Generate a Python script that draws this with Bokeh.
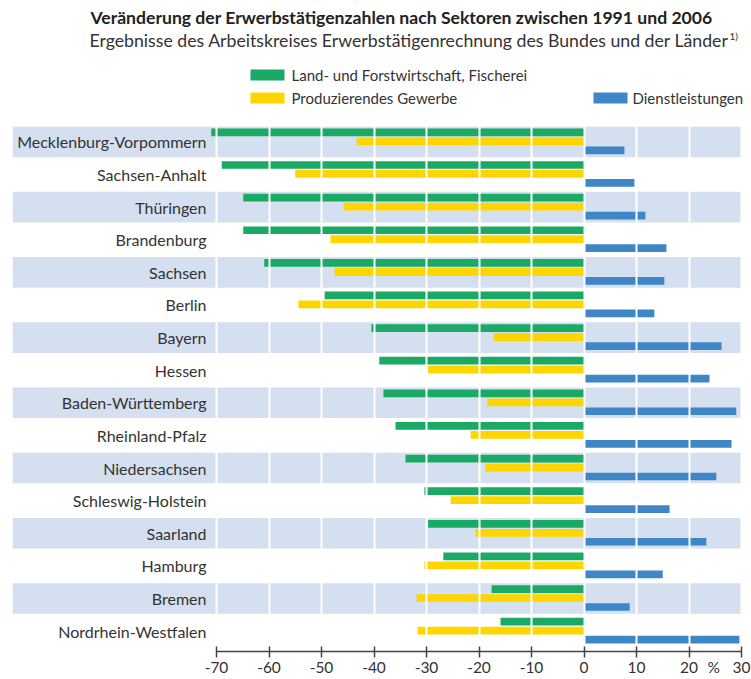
from bokeh.plotting import figure
from bokeh.models import Range1d, FixedTicker
from bokeh.layouts import column
from bokeh.embed import file_html
from bokeh.resources import INLINE
from bokeh.core.properties import value

# ---------------- data ----------------
states = ["Mecklenburg-Vorpommern", "Sachsen-Anhalt", "Thüringen", "Brandenburg",
          "Sachsen", "Berlin", "Bayern", "Hessen", "Baden-Württemberg",
          "Rheinland-Pfalz", "Niedersachsen", "Schleswig-Holstein", "Saarland",
          "Hamburg", "Bremen", "Nordrhein-Westfalen"]
land = [-71.0, -69.0, -64.9, -64.9, -60.9, -49.4, -40.5, -39.0, -38.2, -35.9,
        -34.0, -30.4, -29.7, -26.8, -17.6, -15.9]
prod = [-43.3, -55.0, -45.8, -48.3, -47.5, -54.4, -17.2, -29.7, -18.4, -21.6,
        -18.8, -25.4, -20.7, -30.4, -31.9, -31.7]
dienst = [7.7, 9.6, 11.7, 15.7, 15.3, 13.4, 26.2, 23.9, 29.0, 28.1, 25.2, 16.3,
          23.3, 15.0, 8.7, 29.6]
series_names = ["Land- und Forstwirtschaft, Fischerei", "Produzierendes Gewerbe",
                "Dienstleistungen"]
x_ticks = [-70, -60, -50, -40, -30, -20, -10, 0, 10, 20, 30]
x_tick_labels = ["-70", "-60", "-50", "-40", "-30", "-20", "-10", "0", "10", "20", "30"]
unit_label = "%"
title_text = "Veränderung der Erwerbstätigenzahlen nach Sektoren zwischen 1991 und 2006"
subtitle_text = "Ergebnisse des Arbeitskreises Erwerbstätigenrechnung des Bundes und der Länder"
footnote_mark = "1)"

# ---------------- styles ----------------
FONT = "Lato"
GREEN = "#1BAA66"
YELLOW = "#FFD500"
BLUE = "#3E86C6"
BAND = "#D4DFF0"
TXT = "#333333"

W = 751
HEAD_H = 126
MAIN_H = 679 - HEAD_H
X_MIN, X_MAX = -70, 30
LEFT_PAD = 12
PLOT_RIGHT = 741                     # page x of the value 30
label_px = 216 - LEFT_PAD            # width of the label column (page x 12..216)
scale = (PLOT_RIGHT - 216) / (X_MAX - X_MIN)
x_start = X_MIN - label_px / scale
x_end = X_MAX + (W - PLOT_RIGHT) / scale
PITCH = 32.62                        # px per row
AXIS_Y = 16.094                      # axis position in row units
y_bottom = MAIN_H / PITCH

# ---------------- header (coordinates = page pixels) ----------------
head = figure(width=W, height=HEAD_H, x_range=Range1d(LEFT_PAD, W), y_range=Range1d(HEAD_H, 0),
              toolbar_location=None, output_backend="svg", min_border=0,
              min_border_left=LEFT_PAD, min_border_right=0,
              x_axis_location=None, y_axis_location=None, outline_line_color=None)
head.xgrid.visible = False
head.ygrid.visible = False
head.text(x=[90], y=[17], text=[title_text], text_font=value(FONT), text_font_style="bold",
          text_font_size="17.6px", text_color="#222222", text_baseline="middle", text_align="left")
head.text(x=[89], y=[40], text=[subtitle_text], text_font=value(FONT),
          text_font_size="17.7px", text_color=TXT, text_baseline="middle", text_align="left")
head.text(x=[729], y=[35], text=[footnote_mark], text_font=value(FONT),
          text_font_size="10px", text_color=TXT, text_baseline="middle", text_align="left")
# legend
head.quad(left=[250, 250, 593], right=[284, 284, 627], top=[69, 92, 92], bottom=[80, 103, 103],
          fill_color=[GREEN, YELLOW, BLUE], line_color=None)
head.text(x=[291, 291, 632], y=[74.5, 97.5, 97.5], text=series_names, text_font=value(FONT),
          text_font_size="15px", text_color=TXT, text_baseline="middle", text_align="left")

# ---------------- main ----------------
p = figure(width=W, height=MAIN_H, x_range=Range1d(x_start, x_end), y_range=Range1d(y_bottom, 0),
           toolbar_location=None, output_backend="svg",
           min_border_left=LEFT_PAD, min_border_right=0, min_border_top=0,
           min_border_bottom=0, y_axis_location=None, outline_line_color=None)
p.ygrid.visible = False

n = len(states)
rows = list(range(n))
band_rows = [i for i in rows if i % 2 == 0]
p.hbar(y=[i + 0.47 for i in band_rows], left=x_start, right=X_MAX, height=0.94,
       fill_color=BAND, line_color=None)

BAR_H = 0.236
p.hbar(y=[i + 0.18 for i in rows], left=0, right=land, height=BAR_H, fill_color=GREEN, line_color=None)
p.hbar(y=[i + 0.455 for i in rows], left=0, right=prod, height=BAR_H, fill_color=YELLOW, line_color=None)
p.hbar(y=[i + 0.73 for i in rows], left=0, right=dienst, height=BAR_H, fill_color=BLUE, line_color=None)

label_x = X_MIN - 10 / scale
p.text(x=[label_x] * n, y=[i + 0.47 for i in rows], text=states, text_font=value(FONT),
       text_font_size="16px", text_color=TXT, text_baseline="middle", text_align="right")

# unit label next to the last tick
p.text(x=[24.7], y=[AXIS_Y + 16 / PITCH], text=[unit_label], text_font=value(FONT),
       text_font_size="15.5px", text_color=TXT, text_baseline="middle", text_align="center")

ticker = FixedTicker(ticks=x_ticks)
p.xgrid.ticker = ticker
p.xgrid.grid_line_color = "white"
p.xgrid.grid_line_width = 2
p.xgrid.level = "annotation"

ax = p.xaxis[0]
ax.ticker = ticker
ax.fixed_location = AXIS_Y
ax.level = "overlay"
ax.bounds = (X_MIN, X_MAX)
ax.major_label_overrides = dict(zip(x_ticks, x_tick_labels))
ax.axis_line_color = "#444444"
ax.axis_line_width = 1.5
ax.major_tick_line_color = "#444444"
ax.major_tick_line_width = 1.5
ax.major_tick_in = 5
ax.major_tick_out = 6
ax.minor_tick_line_color = None
ax.major_label_standoff = 5
ax.major_label_text_font = FONT
ax.major_label_text_font_size = "15.5px"
ax.major_label_text_color = TXT

layout = column(head, p, spacing=0)
open("out.html", "w").write(file_html(layout, INLINE))
